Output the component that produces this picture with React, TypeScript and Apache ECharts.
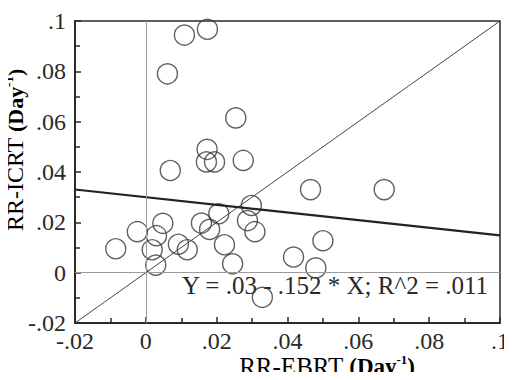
import React, { useEffect, useRef } from "react";
import * as echarts from "echarts";

const points: [number, number][] = [
  [-0.0085, 0.0095],
  [-0.0024, 0.0163],
  [0.0048, 0.0196],
  [0.003, 0.0147],
  [0.0018, 0.0091],
  [0.0028, 0.003],
  [0.0092, 0.0113],
  [0.0117, 0.0091],
  [0.0157, 0.0197],
  [0.018, 0.0172],
  [0.0206, 0.0234],
  [0.0222, 0.0111],
  [0.0245, 0.0035],
  [0.0298, 0.0267],
  [0.0287, 0.0207],
  [0.0308, 0.0163],
  [0.0329, -0.0098],
  [0.0417, 0.0062],
  [0.048, 0.0019],
  [0.05, 0.0127],
  [0.0465, 0.033],
  [0.0673, 0.033],
  [0.0069, 0.0406],
  [0.0173, 0.049],
  [0.0171, 0.044],
  [0.0194, 0.044],
  [0.0275, 0.0446],
  [0.0254, 0.0615],
  [0.0061, 0.079],
  [0.0109, 0.0944],
  [0.0174, 0.0967],
];

const xTickLabels = ["-.02", "0", ".02", ".04", ".06", ".08", ".1"];
const yTickLabels = ["-.02", "0", ".02", ".04", ".06", ".08", ".1"];
const axisMin = -0.02;
const axisMax = 0.1;
const axisStep = 0.02;
const identityLine: [number, number][] = [
  [-0.02, -0.02],
  [0.1, 0.1],
];
const regIntercept = 0.03;
const regSlope = -0.152;
const regressionLine: [number, number][] = [axisMin, axisMax].map(
  (x) => [x, regIntercept + regSlope * x] as [number, number]
);
const equationText = "Y = .03 - .152 * X; R^2 = .011";

const FONT = "Liberation Serif";
const INK = "#2a2a2a";

export default function App() {
  const ref = useRef<HTMLDivElement>(null);
  useEffect(() => {
    if (!ref.current) return;
    const chart = echarts.init(ref.current, undefined, { renderer: "svg" });
    const tickFmt = (labels: string[]) => (v: number) =>
      labels[Math.round((v - axisMin) / axisStep)] ?? "";
    const commonAxis = {
      type: "value" as const,
      min: axisMin,
      max: axisMax,
      interval: axisStep,
      axisLine: { show: true, onZero: false, lineStyle: { color: INK, width: 2 } },
      axisTick: { show: true, inside: true, length: 6, lineStyle: { color: INK, width: 1.5 } },
      minorTick: { show: true, splitNumber: 2, length: 5, lineStyle: { color: INK, width: 1.5 } },
      splitLine: { show: false },
    };
    const nameRich = (size: number) => ({
      n: { fontFamily: FONT, fontSize: size, color: INK, lineHeight: 26 },
      b: { fontFamily: FONT, fontSize: size - 2, fontWeight: "bold", color: INK, lineHeight: 26 },
      s: { fontFamily: FONT, fontSize: 13, fontWeight: "bold", color: INK, verticalAlign: "top", lineHeight: 26 },
    });
    chart.setOption({
      animation: false,
      backgroundColor: "#fff",
      grid: {
        left: 75,
        right: 6,
        top: 21,
        bottom: 57,
        show: true,
        borderColor: INK,
        borderWidth: 1.5,
      },
      xAxis: {
        ...commonAxis,
        axisLabel: {
          formatter: tickFmt(xTickLabels),
          fontFamily: FONT,
          fontSize: 24,
          color: INK,
          margin: 6,
        },
      },
      yAxis: {
        ...commonAxis,
        axisLabel: {
          formatter: tickFmt(yTickLabels),
          fontFamily: FONT,
          fontSize: 24,
          color: INK,
          margin: 9,
        },
      },
      series: [
        {
          type: "line",
          data: identityLine,
          symbol: "none",
          lineStyle: { color: "#444", width: 1 },
          silent: true,
          markLine: {
            symbol: "none",
            silent: true,
            label: { show: false },
            lineStyle: { color: "#9a9a9a", width: 1, type: "solid" },
            data: [{ xAxis: 0 }, { yAxis: 0 }],
          },
        },
        {
          type: "line",
          data: regressionLine,
          symbol: "none",
          lineStyle: { color: "#222", width: 2.2 },
          silent: true,
        },
        {
          type: "scatter",
          data: points,
          symbol: "circle",
          symbolSize: 20,
          itemStyle: { color: "rgba(0,0,0,0)", borderColor: "#3a3a3a", borderWidth: 1.4 },
        },
      ],
      graphic: [
        {
          type: "text",
          x: 335,
          y: 285,
          style: {
            text: equationText,
            fontFamily: FONT,
            fontSize: 25,
            fill: INK,
            align: "center",
            verticalAlign: "middle",
          },
        },
        {
          type: "text",
          x: 327,
          y: 366,
          style: {
            text: "{n|RR-EBRT }{b|(Day}{s|-1}{b|)}",
            align: "center",
            verticalAlign: "middle",
            rich: nameRich(25),
          },
        },
        {
          type: "text",
          x: 15,
          y: 150,
          rotation: Math.PI / 2,
          style: {
            text: "{n|RR-ICRT }{b|(Day}{s|-1}{b|)}",
            align: "center",
            verticalAlign: "middle",
            rich: nameRich(24),
          },
        },
      ],
    });
    return () => chart.dispose();
  }, []);
  return <div ref={ref} style={{ width: 512, height: 380, margin: -8 }} />;
}
